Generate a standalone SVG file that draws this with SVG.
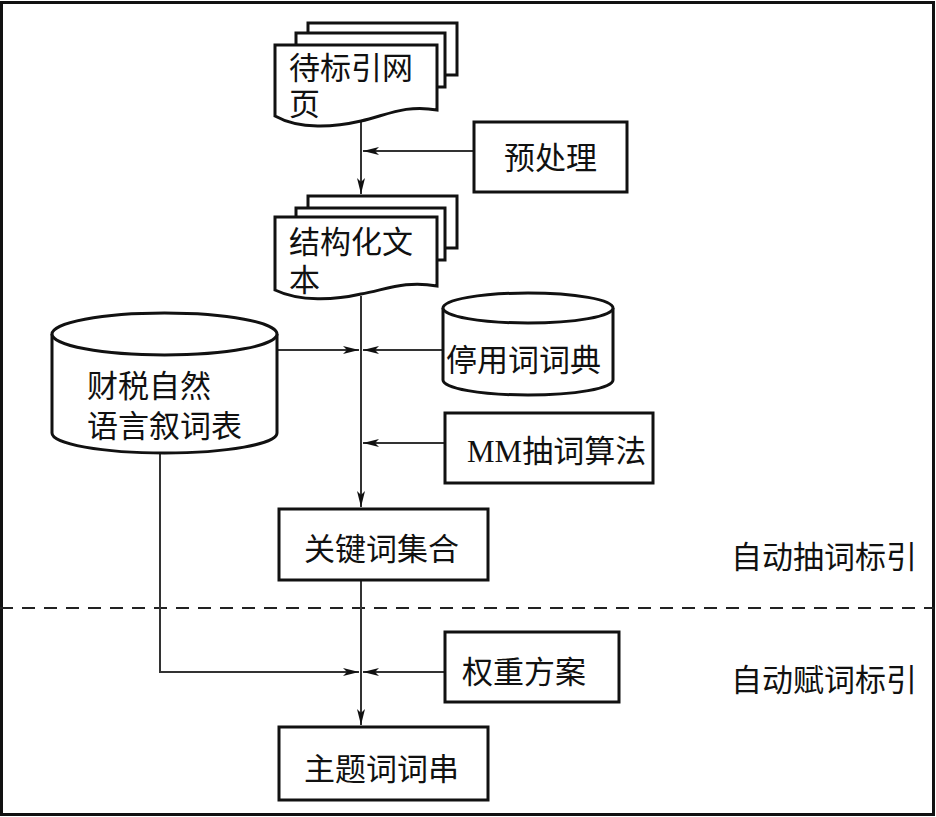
<svg xmlns="http://www.w3.org/2000/svg" width="936" height="817" viewBox="0 0 936 817">
<defs>
<marker id="ah" viewBox="0 0 16 8" refX="16" refY="4" markerWidth="16" markerHeight="8" markerUnits="userSpaceOnUse" orient="auto">
<path d="M0,0 L16,4 L0,8 L4,4 Z" fill="#111"/>
</marker>
<style>
.box{fill:#fff;stroke:#111;stroke-width:3}
.ln{fill:none;stroke:#333;stroke-width:2}
.t{font-family:"Liberation Sans","Noto Sans CJK SC","Noto Sans CJK JP",sans-serif;font-size:31px;fill:#111}
.m{font-family:"Liberation Serif",serif}
</style>
</defs>
<rect x="1.5" y="2.5" width="932" height="812" fill="#fff" stroke="#111" stroke-width="3"/>
<line x1="0" y1="608" x2="934" y2="608" stroke="#222" stroke-width="2" stroke-dasharray="13,9"/>

<g id="connectors">
<path class="ln" d="M361,121 V194" marker-end="url(#ah)"/>
<path class="ln" d="M474,151 H363" marker-end="url(#ah)"/>
<path class="ln" d="M361,296 V507" marker-end="url(#ah)"/>
<path class="ln" d="M277,350 H359" marker-end="url(#ah)"/>
<path class="ln" d="M443,350 H363" marker-end="url(#ah)"/>
<path class="ln" d="M445,443 H363" marker-end="url(#ah)"/>
<path class="ln" d="M361,580 V725" marker-end="url(#ah)"/>
<path class="ln" d="M160,453 V672 H359" marker-end="url(#ah)"/>
<path class="ln" d="M445,672 H363" marker-end="url(#ah)"/>
</g>

<g id="doc1">
<rect class="box" x="308" y="23" width="149" height="52"/>
<rect class="box" x="296" y="33" width="149" height="54"/>
<path class="box" d="M275,45 H437 V110 C405,104 385,116 361,121 C335,127 300,130 275,116 Z"/>
<text class="t" x="289" y="79">待标引网<tspan x="289" y="115">页</tspan></text>
</g>

<g id="preprocess">
<rect class="box" x="474" y="122" width="153" height="70"/>
<text class="t" x="504" y="169">预处理</text>
</g>

<g id="doc2">
<rect class="box" x="308" y="196" width="149" height="52"/>
<rect class="box" x="296" y="208" width="149" height="52"/>
<path class="box" d="M275,217 H437 V286 C405,280 385,290 361,294 C335,300 300,302 275,290 Z"/>
<text class="t" x="289" y="253">结构化文<tspan x="289" y="291">本</tspan></text>
</g>

<g id="thesaurus">
<path class="box" d="M52,334 V433 A112.5,20 0 0 0 277,433 V334"/>
<ellipse class="box" cx="164.5" cy="334" rx="112.5" ry="21"/>
<text class="t" x="87" y="397">财税自然<tspan x="87" y="437">语言叙词表</tspan></text>
</g>

<g id="stopdict">
<path class="box" d="M443,308 V380 A85,15 0 0 0 613,380 V308"/>
<ellipse class="box" cx="528" cy="308" rx="85" ry="15"/>
<text class="t" x="446" y="371">停用词词典</text>
</g>

<g id="mm">
<rect class="box" x="445" y="413" width="208" height="70"/>
<text class="t" x="467" y="462"><tspan class="m">MM</tspan>抽词算法</text>
</g>

<g id="keywords">
<rect class="box" x="279" y="509" width="209" height="71"/>
<text class="t" x="304" y="560">关键词集合</text>
</g>

<g id="weight">
<rect class="box" x="445" y="632" width="174" height="70"/>
<text class="t" x="462" y="683">权重方案</text>
</g>

<g id="subject">
<rect class="box" x="279" y="727" width="209" height="73"/>
<text class="t" x="304" y="780">主题词词串</text>
</g>

<g id="labels">
<text class="t" x="731" y="568">自动抽词标引</text>
<text class="t" x="731" y="691">自动赋词标引</text>
</g>
</svg>
